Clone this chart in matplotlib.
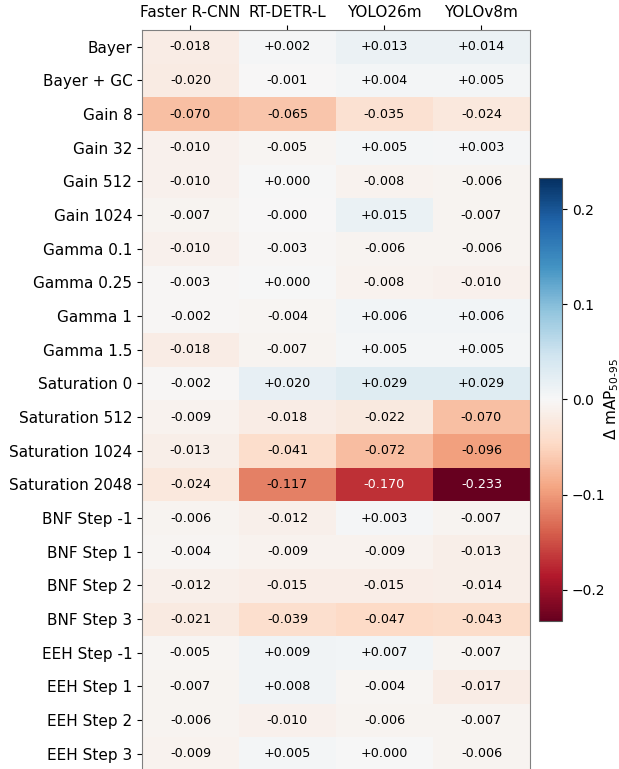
import numpy as np
import matplotlib
matplotlib.use("Agg")
import matplotlib.pyplot as plt

models = ["Faster R-CNN", "RT-DETR-L", "YOLO26m", "YOLOv8m"]
conditions = [
    "Bayer", "Bayer + GC", "Gain 8", "Gain 32", "Gain 512", "Gain 1024",
    "Gamma 0.1", "Gamma 0.25", "Gamma 1", "Gamma 1.5",
    "Saturation 0", "Saturation 512", "Saturation 1024", "Saturation 2048",
    "BNF Step -1", "BNF Step 1", "BNF Step 2", "BNF Step 3",
    "EEH Step -1", "EEH Step 1", "EEH Step 2", "EEH Step 3",
]

faster_rcnn = [-0.018, -0.020, -0.070, -0.010, -0.010, -0.007, -0.010, -0.003,
               -0.002, -0.018, -0.002, -0.009, -0.013, -0.024, -0.006, -0.004,
               -0.012, -0.021, -0.005, -0.007, -0.006, -0.009]
rt_detr = [0.002, -0.001, -0.065, -0.005, 0.000, -0.0004, -0.003, 0.000,
           -0.004, -0.007, 0.020, -0.018, -0.041, -0.117, -0.012, -0.009,
           -0.015, -0.039, 0.009, 0.008, -0.010, 0.005]
yolo26m = [0.013, 0.004, -0.035, 0.005, -0.008, 0.015, -0.006, -0.008,
           0.006, 0.005, 0.029, -0.022, -0.072, -0.170, 0.003, -0.009,
           -0.015, -0.047, 0.007, -0.004, -0.006, 0.000]
yolov8m = [0.014, 0.005, -0.024, 0.003, -0.006, -0.007, -0.006, -0.010,
           0.006, 0.005, 0.029, -0.070, -0.096, -0.233, -0.007, -0.013,
           -0.014, -0.043, -0.007, -0.017, -0.007, -0.006]

data = np.array([faster_rcnn, rt_detr, yolo26m, yolov8m]).T
vlim = np.abs(data).max()

fig = plt.figure(figsize=(6.19, 7.69), dpi=100)
ax = fig.add_axes([0.2294, -0.002, 0.6268, 0.963])
cax = fig.add_axes([0.8708, 0.1925, 0.0372, 0.576])

im = ax.imshow(data, cmap="RdBu", vmin=-vlim, vmax=vlim, aspect="auto",
               interpolation="nearest")

# annotate every cell, white text on the dark ones
for i in range(data.shape[0]):
    for j in range(data.shape[1]):
        v = data[i, j]
        color = "white" if abs(v) > 0.6 * vlim else "black"
        ax.text(j, i, f"{v:+.3f}", ha="center", va="center",
                fontsize=9.2, color=color)

ax.set_xticks(range(len(models)))
ax.set_xticklabels(models, fontsize=11)
ax.set_yticks(range(len(conditions)))
ax.set_yticklabels(conditions, fontsize=11)
ax.xaxis.tick_top()
for s in ax.spines.values():
    s.set_color("#808080")

cb = fig.colorbar(im, cax=cax)
cb.set_ticks([-0.2, -0.1, 0.0, 0.1, 0.2])
cb.ax.tick_params(labelsize=10)
cb.outline.set_edgecolor("#555555")
cb.set_label(r"$\Delta$ mAP$_{50\text{-}95}$", fontsize=11, labelpad=-2)

fig.savefig("out.png", dpi=100)
